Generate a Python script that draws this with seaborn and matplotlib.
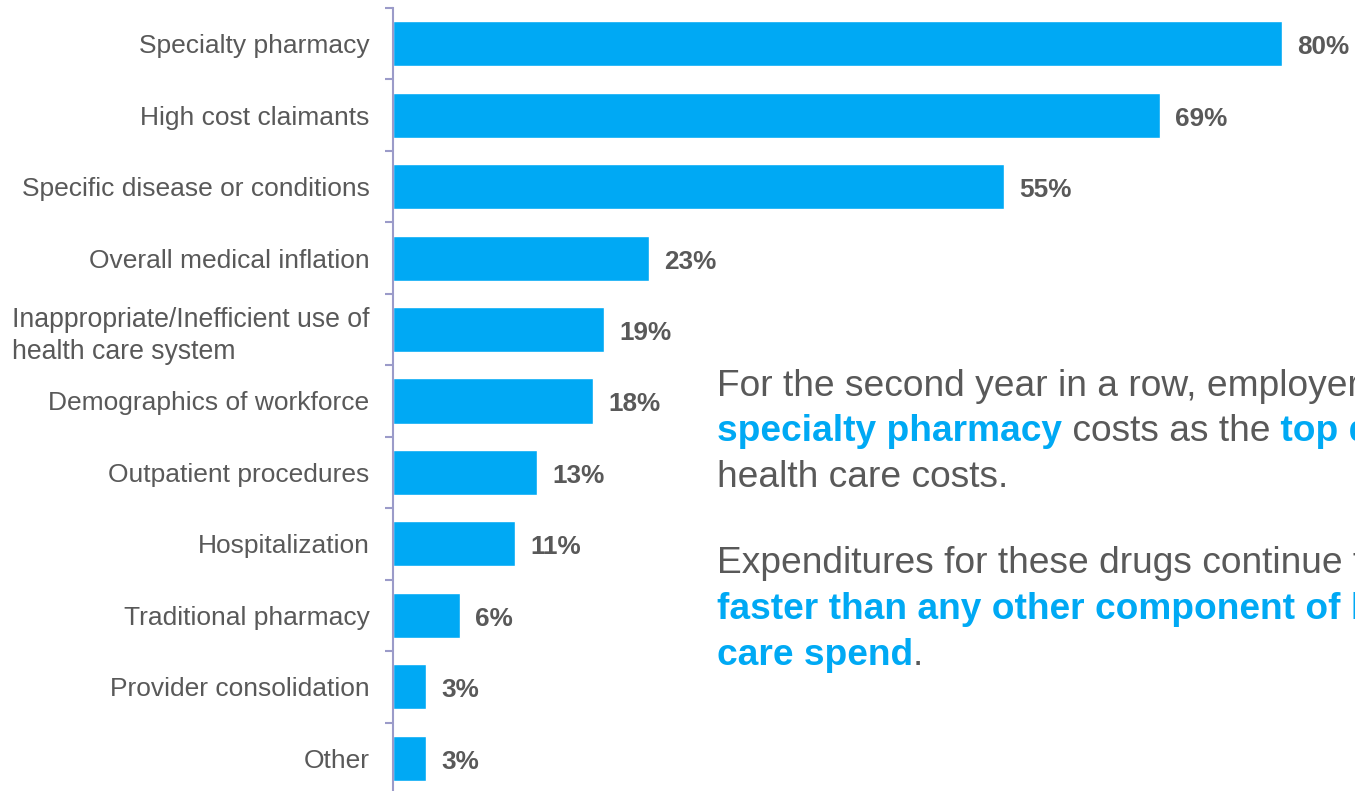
import matplotlib
matplotlib.use('Agg')
import numpy as np
import pandas as pd
import matplotlib.pyplot as plt
import seaborn as sns
from matplotlib.ticker import FixedLocator

# data
categories = [
    "Specialty pharmacy",
    "High cost claimants",
    "Specific disease or conditions",
    "Overall medical inflation",
    "Inappropriate/Inefficient use of\nhealth care system",
    "Demographics of workforce",
    "Outpatient procedures",
    "Hospitalization",
    "Traditional pharmacy",
    "Provider consolidation",
    "Other",
]
values = [80, 69, 55, 23, 19, 18, 13, 11, 6, 3, 3]
value_labels = [f"{v}%" for v in values]

BLUE = '#00A9F4'
GRAY = '#595959'
SPINE = '#9B9BC9'

W, H = 1355, 791

sns.set_theme(style='white')
plt.rcParams['font.family'] = ['Liberation Sans', 'DejaVu Sans']

fig = plt.figure(figsize=(W / 100, H / 100), dpi=100)
ax = fig.add_axes([393 / W, -0.0038, 962 / W, 0.9937])

df = pd.DataFrame({'driver': categories, 'pct': values})
sns.barplot(data=df, x='pct', y='driver', color=BLUE, saturation=1,
            width=0.63, ax=ax)

ax.set_xlim(0, 962 / 11.11)
ax.set_ylim(10.5, -0.5)
ax.set_yticks(range(len(categories)))
ax.set_yticklabels(categories, fontsize=19, color=GRAY)
for lbl in ax.get_yticklabels():
    if '\n' in lbl.get_text():
        lbl.set_multialignment('left')
        lbl.set_linespacing(1.32)
        lbl.set_fontsize(19.2)

ax.yaxis.set_minor_locator(FixedLocator(np.arange(-0.5, len(categories) + 0.5, 1)))
ax.tick_params(axis='y', which='major', length=0, pad=17)
ax.tick_params(axis='y', which='minor', left=True, length=6, width=1.5, color=SPINE)
ax.xaxis.set_visible(False)
ax.set_ylabel('')
ax.set_xlabel('')
for s in ['top', 'right', 'bottom']:
    ax.spines[s].set_visible(False)
ax.spines['left'].set_color(SPINE)
ax.spines['left'].set_linewidth(1.5)

labels = ax.bar_label(ax.containers[0], labels=value_labels, padding=11,
                      fontsize=18.8, fontweight='bold', color=GRAY)
for t in labels:
    t.xyann = (11, -2.5)

# side note, mixed colours on one line
renderer = fig.canvas.get_renderer()


def rich_line(x_px, base_px, parts):
    x = x_px
    for txt, color, weight in parts:
        t = fig.text(x / W, 1 - base_px / H, txt, color=color, fontweight=weight,
                     fontsize=26.7, va='baseline', ha='left')
        x += t.get_window_extent(renderer).width


rich_line(717, 396, [("For the second year in a row, employers rank", GRAY, 'normal')])
rich_line(717, 441.5, [("specialty pharmacy", BLUE, 'bold'),
                       (" costs as the", GRAY, 'normal'),
                       (" top driver of", BLUE, 'bold')])
rich_line(717, 487, [("health care costs.", GRAY, 'normal')])
rich_line(717, 573, [("Expenditures for these drugs continue to rise", GRAY, 'normal')])
rich_line(717, 619, [("faster than any other component of health", BLUE, 'bold')])
rich_line(717, 665, [("care spend", BLUE, 'bold'), (".", GRAY, 'normal')])

fig.savefig('out.png', dpi=100)
